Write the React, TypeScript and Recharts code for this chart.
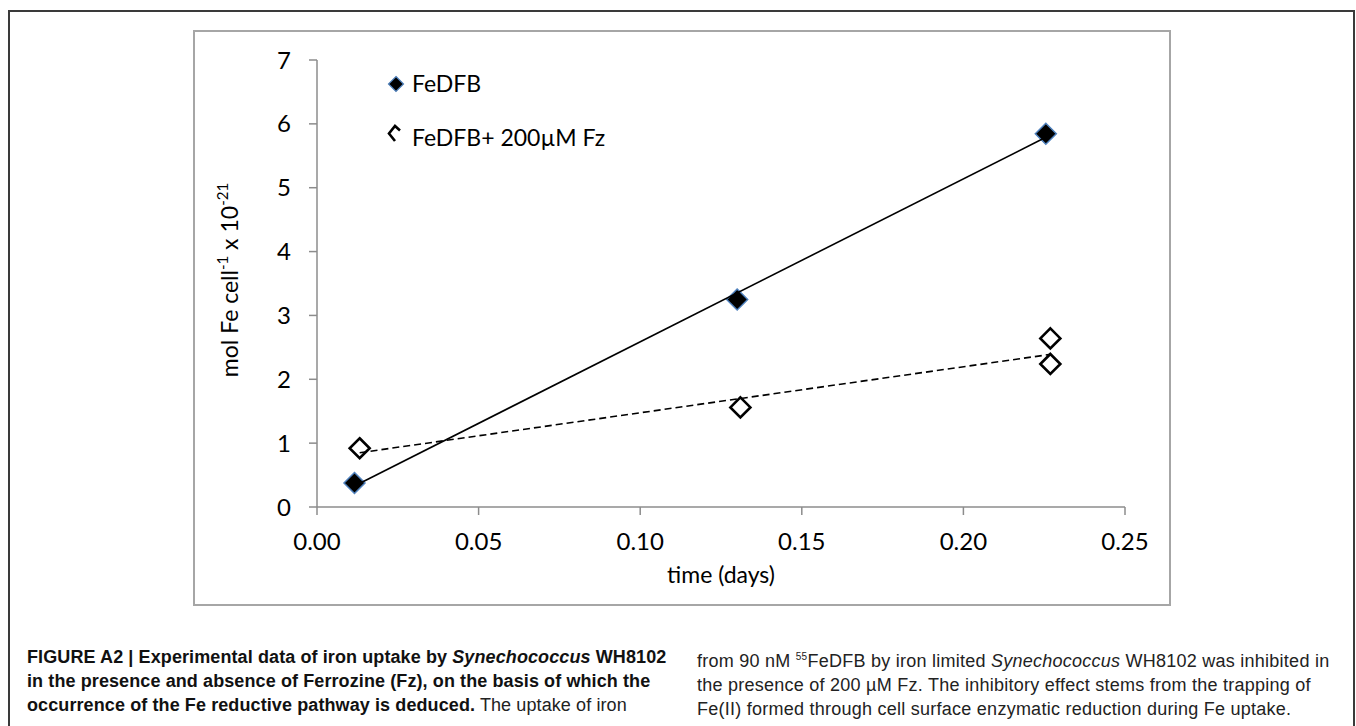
import { ScatterChart, Scatter, XAxis, YAxis, Label } from 'recharts'

document.body.style.margin = '0'
document.body.style.overflow = 'hidden'

const xTicks = [0, 0.05, 0.1, 0.15, 0.2, 0.25]
const yTicks = [0, 1, 2, 3, 4, 5, 6, 7]

// measured uptake, days vs mol Fe cell^-1 x 10^-21
const feDfbTime = [0.0116, 0.13, 0.2255]
const feDfbUptake = [0.376, 3.25, 5.845]
const fzTime = [0.0132, 0.131, 0.2269, 0.2269]
const fzUptake = [0.92, 1.56, 2.64, 2.24]

// linear trendlines as drawn in the figure
const feDfbTrendTime = [0.0116, 0.2255]
const feDfbTrendUptake = [0.33, 5.79]
const fzTrendTime = [0.0132, 0.2269]
const fzTrendUptake = [0.85, 2.39]

const legendLabels = ['FeDFB', 'FeDFB+ 200µM Fz']

const zip = (xs: number[], ys: number[]) => xs.map((x, i) => ({ x, y: ys[i] }))

const feDfb = zip(feDfbTime, feDfbUptake)
const fz = zip(fzTime, fzUptake)
const feDfbTrend = zip(feDfbTrendTime, feDfbTrendUptake)
const fzTrend = zip(fzTrendTime, fzTrendUptake)

const FONT = 'Lato, "Open Sans", sans-serif'
const AXIS = '#8c8c8c'

const diamond = (cx: number, cy: number, r: number) =>
  `M${cx},${cy - r}L${cx + r},${cy}L${cx},${cy + r}L${cx - r},${cy}Z`

const FilledDiamond = (p: any) => (
  <path d={diamond(p.cx, p.cy, 10.5)} fill="#000" stroke="#4f81bd" strokeWidth={1.5} />
)

const OpenDiamond = (p: any) => (
  <path d={diamond(p.cx, p.cy, 10)} fill="#fff" stroke="#000" strokeWidth={2.6} />
)

const NoDot = () => <g />

// the Fz legend key is a clipped open diamond in the original
const ChartLegend = () => (
  <svg width={260} height={100} style={{ display: 'block', overflow: 'visible' }}>
    <path d={diamond(16, 24, 7.5)} fill="#000" stroke="#4f81bd" strokeWidth={1.2} />
    <text x={32} y={32} fontFamily={FONT} fontSize={23} fill="#000">{legendLabels[0]}</text>
    <path d="M20,70.5L15,66L9,73.5L15,81" fill="none" stroke="#000" strokeWidth={2.6} />
    <text x={32} y={86} fontFamily={FONT} fontSize={23} fill="#000">{legendLabels[1]}</text>
  </svg>
)

const YTitle = () => (
  <text
    x={44}
    y={249}
    transform="rotate(-90,44,249)"
    textAnchor="middle"
    fontFamily={FONT}
    fontSize={23}
    fill="#000"
  >
    mol Fe cell
    <tspan dy={-10} fontSize={15}>-1</tspan>
    <tspan dy={10}>{'  x 10'}</tspan>
    <tspan dy={-10} fontSize={15}>-21</tspan>
  </text>
)

const XTitle = () => (
  <text x={527} y={552} textAnchor="middle" fontFamily={FONT} fontSize={23} fill="#000">
    time (days)
  </text>
)

const captionStyle: React.CSSProperties = {
  position: 'absolute',
  fontFamily: '"Liberation Sans", Arial, sans-serif',
  fontSize: 18,
  lineHeight: '24px',
  whiteSpace: 'nowrap',
  color: '#111',
}

export default function App() {
  return (
    <div style={{ position: 'relative', width: 1356, height: 726, overflow: 'hidden', background: '#fff' }}>
      <div
        style={{
          position: 'absolute', left: 8, top: 10, width: 1347, height: 800,
          border: '2px solid #3a3a3a', boxSizing: 'border-box',
        }}
      />
      <div
        style={{
          position: 'absolute', left: 193, top: 30, width: 978, height: 576,
          border: '2px solid #a6a6a6', boxSizing: 'border-box',
        }}
      />
      <div style={{ position: 'absolute', left: 194, top: 31 }}>
        <ScatterChart width={976} height={574} margin={{ top: 29, right: 45, bottom: 0, left: 0 }}>
          <XAxis
            type="number"
            dataKey="x"
            domain={[0, 0.25]}
            ticks={xTicks}
            tickFormatter={(v: number) => v.toFixed(2)}
            height={98}
            stroke={AXIS}
            strokeWidth={1.5}
            tickSize={8}
            tickMargin={18}
            tick={{ fill: '#000', fontSize: 24, fontFamily: FONT }}
            allowDataOverflow
          >
            <Label content={<XTitle />} />
          </XAxis>
          <YAxis
            type="number"
            dataKey="y"
            domain={[0, 7]}
            ticks={yTicks}
            width={123}
            stroke={AXIS}
            strokeWidth={1.5}
            tickSize={8}
            tickMargin={18}
            tick={{ fill: '#000', fontSize: 24, fontFamily: FONT }}
            allowDataOverflow
          >
            <Label content={<YTitle />} />
          </YAxis>
          <Scatter name="FeDFB" data={feDfb} shape={FilledDiamond} isAnimationActive={false} />
          <Scatter name="FeDFB+ 200µM Fz" data={fz} shape={OpenDiamond} isAnimationActive={false} />
          <Scatter
            data={feDfbTrend}
            legendType="none"
            shape={NoDot}
            line={{ stroke: '#000', strokeWidth: 1.6 }}
            isAnimationActive={false}
          />
          <Scatter
            data={fzTrend}
            legendType="none"
            shape={NoDot}
            line={{ stroke: '#000', strokeWidth: 1.6, strokeDasharray: '7 4' }}
            isAnimationActive={false}
          />
        </ScatterChart>
      </div>
      <div style={{ position: 'absolute', left: 380, top: 60 }}>
        <ChartLegend />
      </div>

      <div style={{ ...captionStyle, left: 27, top: 645, fontWeight: 700, letterSpacing: 0.1 }}>
        <div>FIGURE A2 | Experimental data of iron uptake by <i>Synechococcus</i> WH8102</div>
        <div>in the presence and absence of Ferrozine (Fz), on the basis of which the</div>
        <div>
          occurrence of the Fe reductive pathway is deduced.
          <span style={{ fontWeight: 400, color: '#222' }}> The uptake of iron</span>
        </div>
      </div>
      <div style={{ ...captionStyle, left: 697, top: 645, letterSpacing: 0.25, color: '#222' }}>
        <div>
          from 90 nM <sup style={{ fontSize: 10, verticalAlign: 7 }}>55</sup>FeDFB by iron limited <i>Synechococcus</i> WH8102 was inhibited in
        </div>
        <div>the presence of 200 µM Fz. The inhibitory effect stems from the trapping of</div>
        <div>Fe(II) formed through cell surface enzymatic reduction during Fe uptake.</div>
      </div>
    </div>
  )
}
